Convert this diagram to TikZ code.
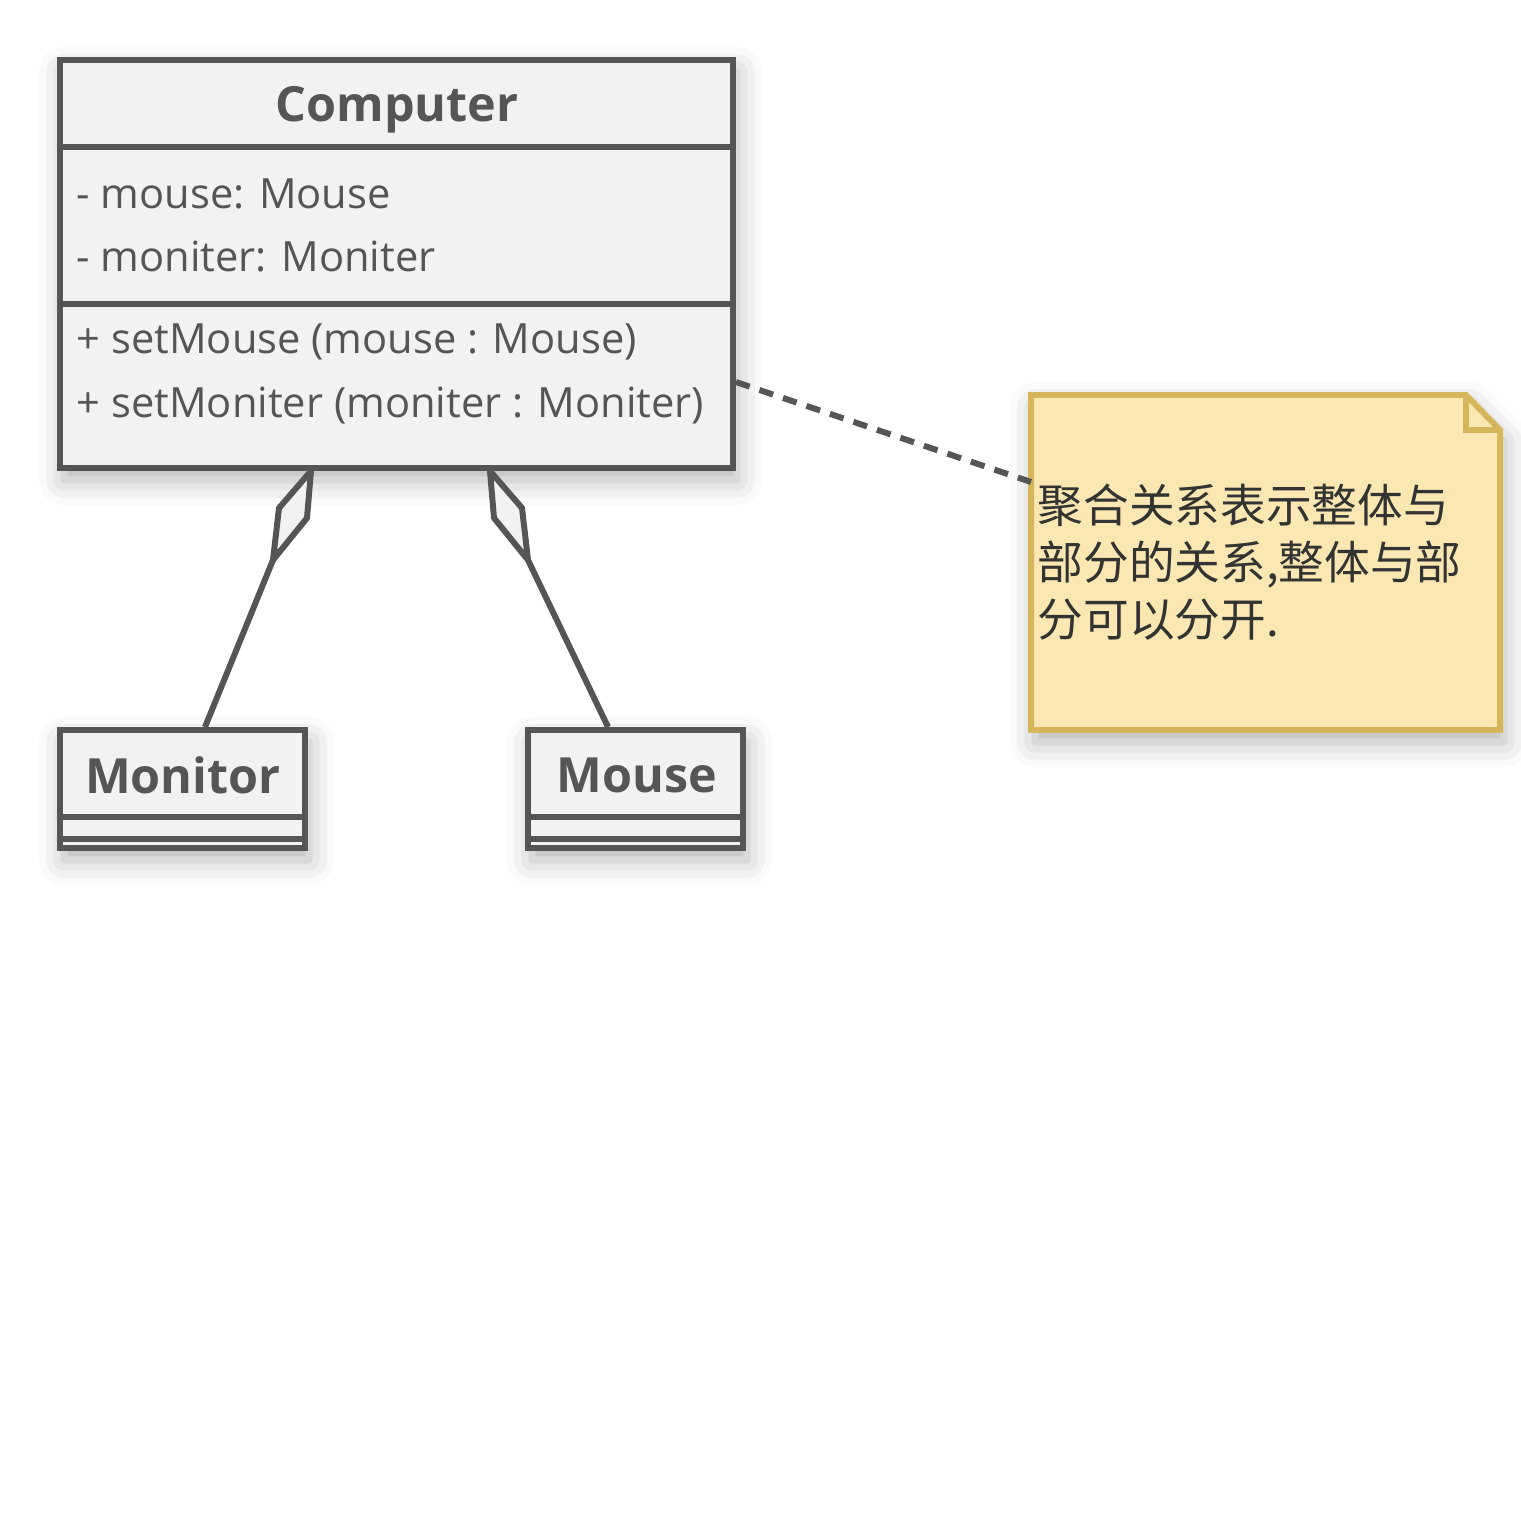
\documentclass[tikz,border=0pt]{standalone}
\usepackage{fontspec}
\setmainfont{Open Sans}
\newfontfamily\cjk{Noto Sans CJK SC}
\usetikzlibrary{positioning,calc,shadows.blur}
\definecolor{UmlLine}{RGB}{85,85,85}
\definecolor{UmlFill}{RGB}{242,242,242}
\definecolor{NoteFill}{RGB}{251,231,178}
\definecolor{NoteLine}{RGB}{214,182,90}
\definecolor{NoteText}{RGB}{51,51,51}
\tikzset{
	softshadow/.style={blur shadow={shadow xshift=0.4mm, shadow yshift=-1.2mm,
		shadow blur radius=2.5mm, shadow opacity=30}},
	umlbox/.style={draw=UmlLine, fill=UmlFill, line width=1.7pt, inner sep=0pt, softshadow},
	classname/.style={text=UmlLine, font=\fontsize{13.8}{16}\selectfont\bfseries},
	member/.style={text=UmlLine, font=\fontsize{11.85}{14}\selectfont, anchor=west, inner sep=0pt},
	sep/.style={UmlLine, line width=1.7pt},
	aggdiamond/.style={draw=UmlLine, fill=UmlFill, line width=1.7pt, line join=round},
	assoc/.style={UmlLine, line width=1.7pt},
	dashline/.style={UmlLine, line width=1.7pt, dash pattern=on 1.44mm off 1.04mm},
	notebox/.style={draw=NoteLine, fill=NoteFill, line width=1.7pt, line join=miter, softshadow},
	notetext/.style={text=NoteText, font=\cjk\fontsize{13}{16.2}\selectfont, align=left,
		anchor=west, inner sep=0pt},
}
\begin{document}
\begin{tikzpicture}[x=0.1mm, y=-0.1mm]
	\useasboundingbox (0,0) rectangle (1520,1520);
	
	% Computer class
	\node[umlbox, minimum width=67.3mm, minimum height=40.8mm] (cmp) at (396.5,264) {};
	\draw[sep] (cmp.west |- 0,147) -- (cmp.east |- 0,147);
	\draw[sep] (cmp.west |- 0,304) -- (cmp.east |- 0,304);
	\node[classname] (cmpname) at (397,110) {Computer};
	\node[member] (a1) at (76,194) {- mouse: Mouse};
	\node[member] (a2) at (76,257) {- moniter: Moniter};
	\node[member] (m1) at (76,342) {+ setMouse (mouse : Mouse)};
	\node[member] (m2) at (76,406) {+ setMoniter (moniter : Moniter)};
	
	% Monitor and Mouse classes
	\node[umlbox, minimum width=24.5mm, minimum height=11.8mm] (mon) at (182.5,789) {};
	\node[classname] (monname) at (183,775) {Monitor};
	\draw[sep] (mon.west |- 0,817) -- (mon.east |- 0,817);
	\draw[sep] (mon.west |- 0,839) -- (mon.east |- 0,839);
	
	\node[umlbox, minimum width=21.5mm, minimum height=11.8mm] (mse) at (635.5,789) {};
	\node[classname] (msename) at (637,775) {Mouse};
	\draw[sep] (mse.west |- 0,817) -- (mse.east |- 0,817);
	\draw[sep] (mse.west |- 0,839) -- (mse.east |- 0,839);
	
	% Aggregation diamonds
	\coordinate (dl) at (311,471);
	\coordinate (dr) at (490,471);
	\draw[aggdiamond] (dl) -- ++(-32,37) -- ++(-6,52) coordinate (dlb) -- ++(34,-42) -- cycle;
	\draw[aggdiamond] (dr) -- ++(32,37) -- ++(6,52) coordinate (drb) -- ++(-34,-42) -- cycle;
	\draw[assoc] (dlb) -- ([xshift=2.25mm]mon.north);
	\draw[assoc] (drb) -- ([xshift=-2.75mm]mse.north);
	
	% Note
	\draw[notebox] (1031,395) -- (1466,395) -- (1500,430) -- (1500,730) -- (1031,730) -- cycle;
	\draw[NoteLine, line width=1.7pt] (1466,395) -- (1466,430) -- (1500,430);
	\node[notetext] (note) at (1037,562) {聚合关系表示整体与\\部分的关系,整体与部\\分可以分开.};
	
	\draw[dashline] (cmp.east |- 0,382) -- (1031,482);
	
\end{tikzpicture}
\end{document}
